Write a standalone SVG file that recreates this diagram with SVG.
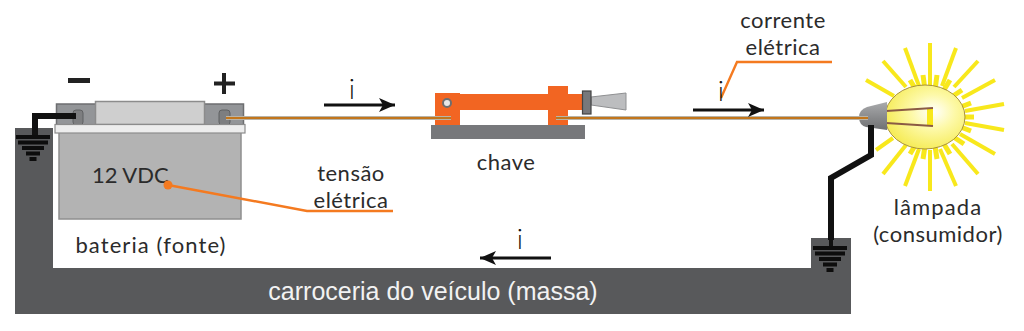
<svg xmlns="http://www.w3.org/2000/svg" width="1024" height="331" viewBox="0 0 1024 331">
  <style>
    text { font-family: Lato, "Open Sans", sans-serif; font-size: 22px; letter-spacing: 0.5px; fill: #2b2b2b; }
    .ctr { text-anchor: middle; }
    .wide { letter-spacing: 1.100px; }
    .wire { fill: none; stroke: #b9b4a8; stroke-width: 4; }
    .core { fill: none; stroke: #c2761c; stroke-width: 2; }
    .black { fill: none; stroke: #111; stroke-width: 6; stroke-linejoin: miter; }
    .leader { fill: none; stroke: #f47a20; stroke-width: 2.4; }
    .arrow { fill: none; stroke: #111; stroke-width: 3; }
    .ray { stroke: #f8e81c; stroke-width: 4; }
    .ray2 { stroke: #f8e81c; stroke-width: 5; }
    .gbar { fill: #0d0d0d; }
    .cur { font-size: 28px; fill: #111; font-weight: 300; }
  </style>
  <defs>
    <radialGradient id="glass" cx="0.6" cy="0.42" r="0.6">
      <stop offset="0" stop-color="#ffffff"/>
      <stop offset="0.45" stop-color="#fdf9a8"/>
      <stop offset="1" stop-color="#f6ec5a"/>
    </radialGradient>
    <linearGradient id="socket" x1="0" y1="0" x2="0" y2="1">
      <stop offset="0" stop-color="#a9aaac"/>
      <stop offset="1" stop-color="#6f7072"/>
    </linearGradient>
    <marker id="head" markerWidth="18" markerHeight="14" refX="16" refY="7" orient="auto" markerUnits="userSpaceOnUse">
      <path d="M0 0L16 7L0 14L4 7Z" fill="#111"/>
    </marker>
    <g id="ground">
      <rect class="gbar" x="-17" y="0" width="34" height="4"/>
      <rect class="gbar" x="-15" y="5.500" width="30" height="4"/>
      <rect class="gbar" x="-11" y="11" width="22" height="4"/>
      <rect class="gbar" x="-7" y="16.500" width="14" height="4"/>
      <rect class="gbar" x="-3.500" y="22" width="7" height="4"/>
    </g>
  </defs>

  <g id="carroceria">
    <path d="M15 128H53V268H811V238H851V314H15Z" fill="#58595b"/>
    <text x="433" y="300" class="ctr" style="font-family:'Liberation Sans',Arial,sans-serif;font-size:25px;letter-spacing:0;fill:#f2f2f2">carroceria do veículo (massa)</text>
  </g>

  <g id="bateria">
    <rect x="59" y="132" width="182" height="87" fill="#b3b3b3" stroke="#8f8f8f" stroke-width="1.500"/>
    <rect x="56.500" y="104" width="187" height="21" fill="#939598" stroke="#6d6e70" stroke-width="1.500"/>
    <rect x="95.500" y="101.500" width="109" height="23" fill="#cfcfcf" stroke="#8c8c8c" stroke-width="1.500"/>
    <rect x="73" y="110" width="10" height="15" rx="3" fill="#7d7e80" stroke="#5f6062"/>
    <rect x="219" y="110" width="11" height="15" rx="3" fill="#7d7e80" stroke="#5f6062"/>
    <rect x="55" y="124.500" width="190" height="8.500" fill="#ededed" stroke="#8c8c8c" stroke-width="1.200"/>
    <text x="92" y="183" style="letter-spacing:0">12 VDC</text>
    <text x="151" y="253" class="ctr wide">bateria (fonte)</text>
    <rect x="68" y="78" width="22" height="5" fill="#222"/>
    <path d="M224 73V94M214 83.500H235" fill="none" stroke="#222" stroke-width="4"/>
  </g>

  <g id="chave">
    <rect x="431" y="125" width="154" height="14" fill="#77787b"/>
    <rect x="460" y="94" width="90" height="16" fill="#f26522"/>
    <rect x="566" y="94" width="17" height="16" fill="#f26522"/>
    <rect x="435" y="93" width="25" height="32" fill="#f26522"/>
    <rect x="548" y="86" width="20" height="39" fill="#f26522"/>
    <circle cx="447" cy="103" r="4" fill="#e8e8e8" stroke="#6d6e70" stroke-width="2"/>
    <path d="M591 97L626 93V110L591 105Z" fill="#bcbdbf" stroke="#8f9092"/>
    <rect x="582.500" y="91" width="8.500" height="23" fill="#77787b" stroke="#444" stroke-width="1.200"/>
    <text x="506" y="170" class="ctr">chave</text>
  </g>

  <g id="lampada">
    <g class="ray">
      <line x1="930" y1="43" x2="930" y2="85"/>
      <line x1="905" y1="48" x2="919" y2="86"/>
      <line x1="956" y1="48" x2="942" y2="86"/>
      <line x1="883" y1="61" x2="906" y2="87"/>
      <line x1="978" y1="61" x2="954" y2="87"/>
      <line x1="866" y1="80" x2="894" y2="96"/>
      <line x1="995" y1="80" x2="962" y2="98"/>
      <line x1="965" y1="111" x2="1004" y2="104"/>
      <line x1="965" y1="123" x2="1004" y2="130"/>
      <line x1="960" y1="134" x2="995" y2="154"/>
      <line x1="952" y1="144" x2="978" y2="174"/>
      <line x1="940" y1="149" x2="956" y2="186"/>
      <line x1="930" y1="150" x2="930" y2="191"/>
      <line x1="919" y1="149" x2="905" y2="186"/>
      <line x1="906" y1="145" x2="883" y2="174"/>
      <line x1="893" y1="138" x2="876" y2="150"/>
    </g>
    <g class="ray2">
      <line x1="923" y1="75" x2="925" y2="90"/>
      <line x1="937" y1="75" x2="935" y2="90"/>
      <line x1="910" y1="80" x2="916" y2="90"/>
      <line x1="950" y1="80" x2="944" y2="90"/>
      <line x1="962" y1="90" x2="950" y2="98"/>
      <line x1="971" y1="103" x2="958" y2="108"/>
      <line x1="974" y1="117" x2="960" y2="117"/>
      <line x1="971" y1="131" x2="958" y2="126"/>
      <line x1="964" y1="144" x2="952" y2="136"/>
      <line x1="950" y1="154" x2="944" y2="144"/>
      <line x1="937" y1="159" x2="935" y2="146"/>
      <line x1="923" y1="159" x2="925" y2="146"/>
      <line x1="910" y1="154" x2="916" y2="144"/>
    </g>
    <ellipse cx="925" cy="117" rx="40" ry="32" fill="url(#glass)" stroke="#a8913a" stroke-width="1"/>
    <rect x="927" y="108" width="6" height="18" fill="#f8e81c"/>
    <path d="M886 111L933 108M886 123L933 126" fill="none" stroke="#8a5a44" stroke-width="2"/>
    <path d="M887 102L867 107Q859 110 859 117Q859 125 866 127L887 130Z" fill="url(#socket)"/>
    <text x="938" y="215" class="ctr wide">lâmpada</text>
    <text x="938" y="242" class="ctr">(consumidor)</text>
  </g>

  <g id="conexoes">
    <path class="wire" d="M226 118H451M556 118H868"/>
    <path class="core" d="M226 118H451M556 118H868"/>
    <path class="black" d="M76 116H35V139"/>
    <use href="#ground" x="33" y="135"/>
    <path class="black" d="M871 125V155L831 178V240"/>
    <path d="M831 235V246" stroke="#111" stroke-width="4"/>
    <use href="#ground" x="830" y="246"/>
    <path class="arrow" marker-end="url(#head)" d="M324 105H395"/>
    <path class="arrow" marker-end="url(#head)" d="M693 110H764"/>
    <path class="arrow" marker-end="url(#head)" d="M551 258H480"/>
    <path class="leader" d="M832 62H737L721 98"/>
    <path class="leader" d="M168 185L307 211H393"/>
    <circle cx="168" cy="185" r="4.500" fill="#f47a20"/>
    <g id="rotulos">
      <text x="352" y="99" class="ctr cur">i</text>
      <text x="721" y="101" class="ctr cur">i</text>
      <text x="520" y="249" class="ctr cur">i</text>
      <text x="783" y="28" class="ctr">corrente</text>
      <text x="783" y="55" class="ctr">elétrica</text>
      <text x="351" y="181" class="ctr">tensão</text>
      <text x="351" y="208" class="ctr">elétrica</text>
    </g>
  </g>
</svg>
